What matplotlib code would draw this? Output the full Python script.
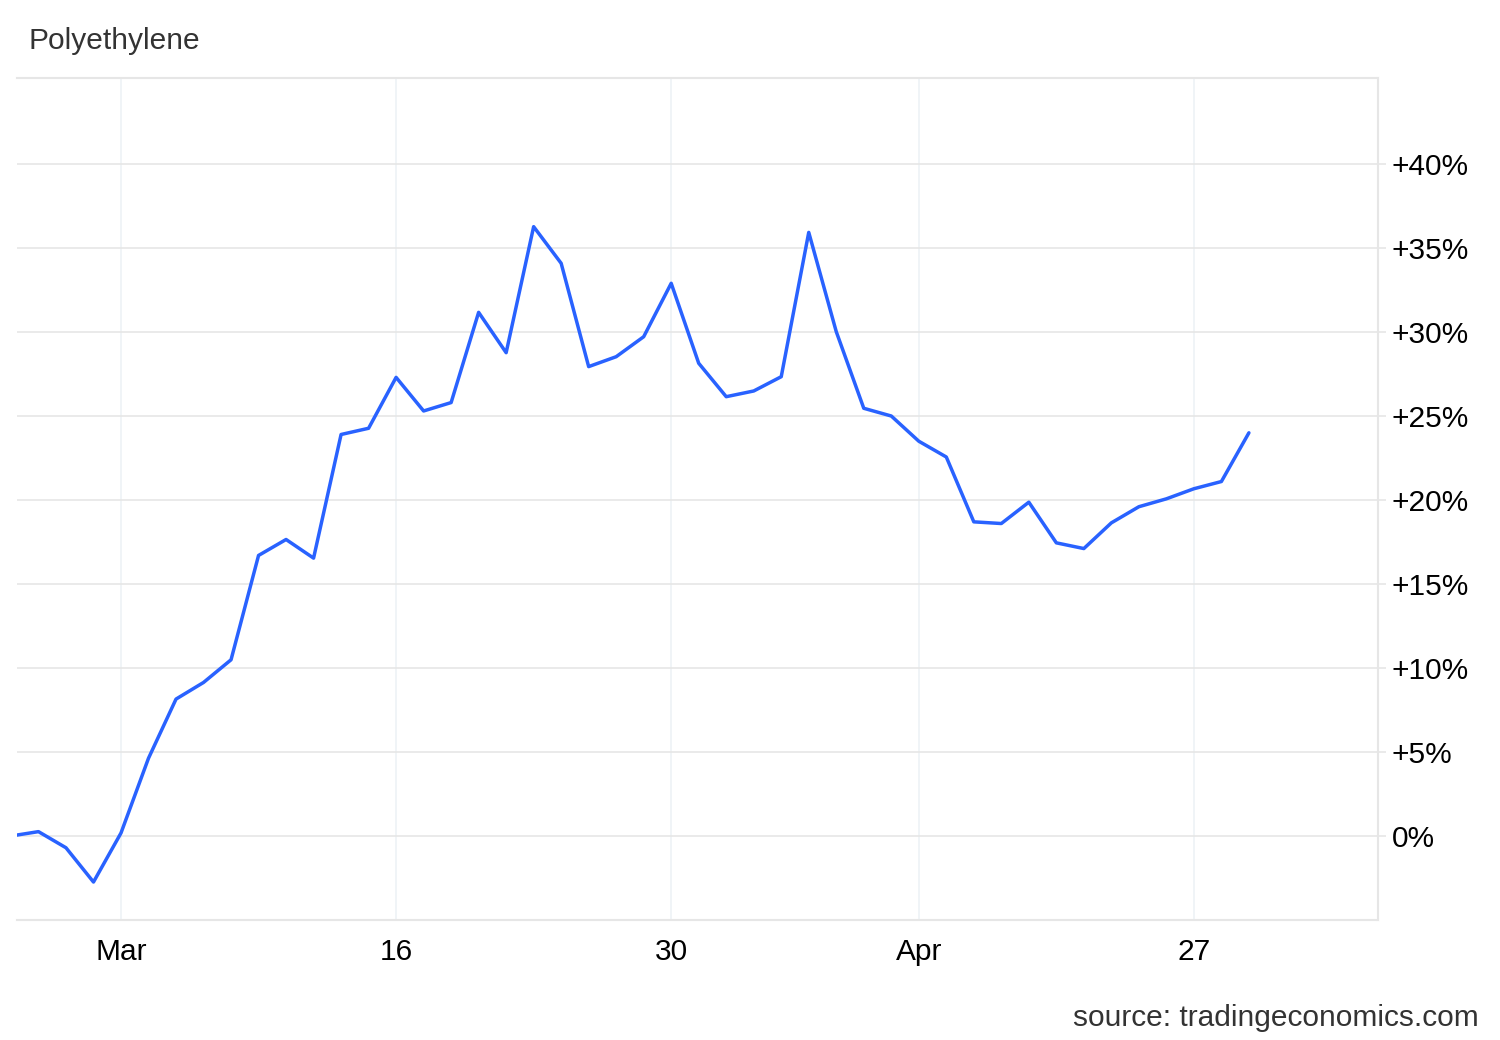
import matplotlib
matplotlib.use("Agg")
import matplotlib.pyplot as plt
from matplotlib.ticker import FixedLocator, FuncFormatter

# trading-day index (0 = Mar 2) and percentage change
day_index = list(range(-4, 42))
values = [0.0, 0.26, -0.7, -2.74, 0.18, 4.63, 8.15, 9.14, 10.49, 16.7,
          17.65, 16.54, 23.9, 24.27, 27.3, 25.3, 25.8, 31.17, 28.77, 36.27,
          34.09, 27.94, 28.53, 29.72, 32.9, 28.14, 26.15, 26.49, 27.34, 35.93,
          30.02, 25.46, 25.0, 23.5, 22.56, 18.7, 18.6, 19.87, 17.45, 17.11,
          18.64, 19.6, 20.07, 20.67, 21.1, 24.0]
x_tick_pos = [0, 10, 20, 29, 39]
x_tick_labels = ["Mar", "16", "30", "Apr", "27"]
y_ticks = [0, 5, 10, 15, 20, 25, 30, 35, 40]

plt.rcParams['font.family'] = ['Liberation Sans', 'DejaVu Sans']

W, H = 1500, 1040
fig = plt.figure(figsize=(W / 100, H / 100), dpi=100)
ax = fig.add_axes([17 / W, 1 - 920 / H, (1378 - 17) / W, (920 - 78) / H])

ax.plot(day_index, values, color="#2962ff", lw=2.5, solid_joinstyle="round",
        solid_capstyle="round", zorder=3)

ax.set_xlim((17 - 121) / 27.51, (1378 - 121) / 27.51)
ax.set_ylim(-5, 45.12)

ax.xaxis.set_major_locator(FixedLocator(x_tick_pos))
ax.set_xticklabels(x_tick_labels)
ax.yaxis.set_major_locator(FixedLocator(y_ticks))
ax.yaxis.set_major_formatter(FuncFormatter(lambda v, p: "0%" if v == 0 else f"+{v:.0f}%"))

ax.yaxis.tick_right()
ax.tick_params(axis="y", which="major", length=6, width=1.2, color="#e6e6e6",
               labelsize=21.5, labelcolor="#000000", pad=4, direction="out")
ax.tick_params(axis="x", which="major", length=0, labelsize=21.5,
               labelcolor="#000000", pad=13)

ax.grid(axis="y", color="#e6e6e6", lw=1.2)
ax.grid(axis="x", color="#eef2f6", lw=1.2)
ax.set_axisbelow(True)

ax.spines["left"].set_visible(False)
for side in ["top", "bottom", "right"]:
    ax.spines[side].set_color("#e6e6e6")
    ax.spines[side].set_linewidth(1.5)

fig.text(28 / W, 1 - 41 / H, "Polyethylene", fontsize=21.5, color="#333333",
         ha="left", va="center")
fig.text(1479 / W, 1 - 1018 / H, "source: tradingeconomics.com", fontsize=21.5,
         color="#333333", ha="right", va="center")

fig.savefig("out.png", dpi=100)
